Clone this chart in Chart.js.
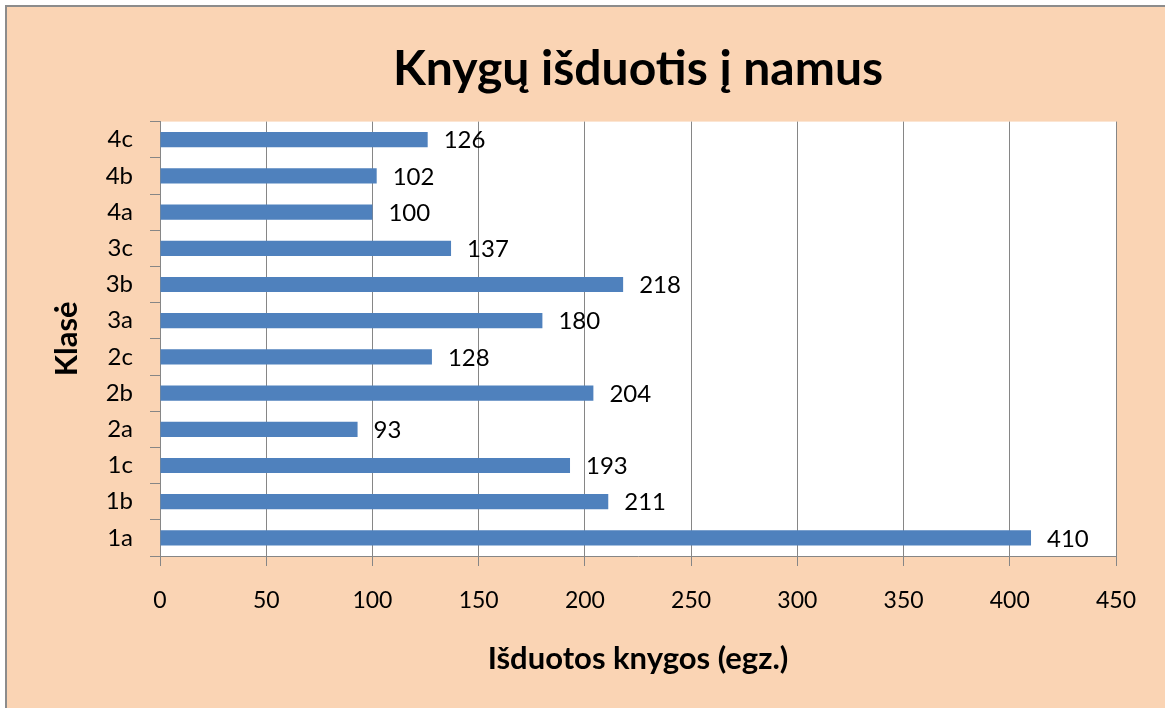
<!DOCTYPE html>
<html>
<head>
<meta charset="utf-8">
<script src="https://cdn.jsdelivr.net/npm/chart.js@4/dist/chart.umd.min.js"></script>
<style>
  body { margin: 0; background: #fff; }
  #wrap { position: relative; width: 1165px; height: 708px; overflow: hidden; background: #fff; }
  #frame {
    position: absolute; left: 5px; top: 5px; width: 1200px; height: 750px;
    border-top: 2px solid #8c8c8c; border-left: 2px solid #8c8c8c;
    background: #fad4b4;
  }
  #chart { position: absolute; left: 0; top: 0; }
</style>
</head>
<body>
<div id="wrap">
  <div id="frame"></div>
  <canvas id="chart" width="1165" height="708"></canvas>
</div>
<script>
// klasės ir išduotų knygų skaičius
var classes = ["1a", "1b", "1c", "2a", "2b", "2c", "3a", "3b", "3c", "4a", "4b", "4c"];
var booksIssued = [410, 211, 193, 93, 204, 128, 180, 218, 137, 100, 102, 126];
var xTicks = [0, 50, 100, 150, 200, 250, 300, 350, 400, 450];

var FONT = "Lato";
var GRID = "#868686";

// white plot area like the excel chart
var plotBg = {
  id: "plotBg",
  beforeDraw: function (chart) {
    var a = chart.chartArea, ctx = chart.ctx;
    ctx.save();
    ctx.fillStyle = "#ffffff";
    ctx.fillRect(a.left, a.top, a.right - a.left, a.bottom - a.top);
    ctx.restore();
  },
};

// value labels at the end of each bar (no datalabels plugin offline)
var valueLabels = {
  id: "valueLabels",
  afterDatasetsDraw: function (chart) {
    var ctx = chart.ctx;
    var meta = chart.getDatasetMeta(0);
    ctx.save();
    ctx.font = "24px " + FONT;
    ctx.fillStyle = "#000";
    ctx.textAlign = "left";
    ctx.textBaseline = "middle";
    meta.data.forEach(function (bar, i) {
      ctx.fillText(String(booksIssued[i]), bar.x + 16, bar.y + 1);
    });
    ctx.restore();
  },
};

new Chart("chart", {
  type: "bar",
  data: {
    labels: classes,
    datasets: [
      {
        data: booksIssued,
        backgroundColor: "#4f81bd",
        borderWidth: 0,
        barPercentage: 0.42,
        categoryPercentage: 1,
      },
    ],
  },
  options: {
    indexAxis: "y",
    responsive: false,
    animation: false,
    layout: { padding: { left: 8, right: 49, top: 0, bottom: 0 } },
    plugins: {
      legend: { display: false },
      tooltip: { enabled: false },
      title: {
        display: true,
        fullSize: false,
        text: "Knygų išduotis į namus",
        color: "#000",
        font: { family: FONT, size: 48, weight: "bold" },
        padding: { top: 41, bottom: 23 },
      },
    },
    scales: {
      x: {
        min: 0,
        max: 450,
        afterFit: function (s) { s.height = 152; },
        afterBuildTicks: function (s) {
          s.ticks = xTicks.map(function (v) { return { value: v }; });
        },
        grid: { color: GRID, tickColor: GRID, tickLength: 10, lineWidth: 1 },
        border: { color: GRID },
        ticks: { color: "#000", font: { family: FONT, size: 23 }, padding: 21 },
        title: {
          display: true,
          text: "Išduotos knygos (egz.)",
          color: "#000",
          font: { family: FONT, size: 31, weight: "bold" },
          padding: { top: 30, bottom: 30 },
        },
      },
      y: {
        reverse: true,
        afterFit: function (s) { s.width = 152; },
        grid: { drawOnChartArea: false, color: GRID, tickColor: GRID, tickLength: 10, offset: true },
        border: { color: GRID },
        ticks: { color: "#000", font: { family: FONT, size: 24 }, padding: 17 },
        title: {
          display: true,
          text: "Klasė",
          color: "#000",
          font: { family: FONT, size: 31, weight: "bold" },
          padding: { top: 40, bottom: 40 },
        },
      },
    },
  },
  plugins: [plotBg, valueLabels],
});
</script>
</body>
</html>
